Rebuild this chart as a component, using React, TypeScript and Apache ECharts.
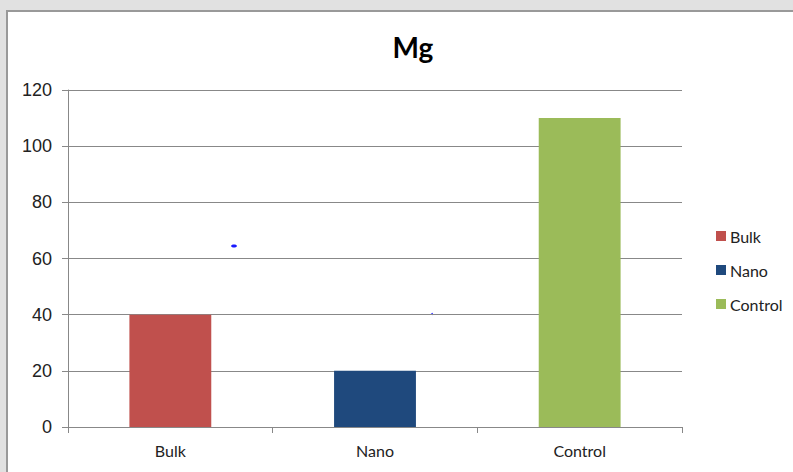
import React, { useEffect, useRef } from "react";
import * as echarts from "echarts";

const categories = ["Bulk", "Nano", "Control"];
const seriesNames = ["Bulk", "Nano", "Control"];
const values = [40, 20, 110];
const colors = ["#C0504D", "#1F497D", "#9BBB59"];
const yTicks = { min: 0, max: 120, interval: 20 };

const labelFont = "Lato";
const numFont = "Liberation Sans";

export default function App() {
  const ref = useRef<HTMLDivElement>(null);

  useEffect(() => {
    if (!ref.current) return;
    const chart = echarts.init(ref.current, null, { renderer: "svg" });

    // one series per category so each gets its own legend entry, stacked to share a slot
    const series = seriesNames.map((name, i) => ({
      name,
      type: "bar" as const,
      stack: "all",
      barWidth: "40%",
      itemStyle: { color: colors[i] },
      data: values.map((v, j) => (j === i ? v : "-")),
    }));

    chart.setOption({
      animation: false,
      backgroundColor: "transparent",
      title: {
        text: "Mg",
        left: 408,
        textAlign: "center",
        top: 28,
        textStyle: {
          fontFamily: labelFont,
          fontSize: 28,
          fontWeight: "bold",
          color: "#000",
        },
      },
      legend: {
        orient: "vertical",
        left: 711,
        top: 223,
        itemWidth: 10,
        itemHeight: 10,
        itemGap: 18,
        icon: "rect",
        data: seriesNames,
        textStyle: { fontFamily: labelFont, fontSize: 16, color: "#222", padding: [0, 0, 0, -1] },
      },
      grid: { left: 68, right: 111, top: 90, bottom: 45 },
      xAxis: {
        type: "category",
        data: categories,
        boundaryGap: true,
        axisLine: { lineStyle: { color: "#888", width: 1 } },
        axisTick: { show: true, length: 6, lineStyle: { color: "#888" } },
        axisLabel: { fontFamily: labelFont, fontSize: 16, color: "#222", margin: 15 },
      },
      yAxis: {
        type: "value",
        min: yTicks.min,
        max: yTicks.max,
        interval: yTicks.interval,
        axisLine: { show: true, lineStyle: { color: "#888", width: 1 } },
        axisTick: { show: true, length: 6, lineStyle: { color: "#888" } },
        splitLine: { lineStyle: { color: "#888", width: 1 } },
        axisLabel: {
          fontFamily: "Liberation Sans, Arial, sans-serif",
          fontSize: 18,
          color: "#222",
          margin: 16,
        },
      },
      graphic: [
        { type: "ellipse", shape: { cx: 234, cy: 246, rx: 3, ry: 1.5 }, style: { fill: "#1a1aff" }, silent: true },
        { type: "circle", shape: { cx: 432, cy: 314, r: 1 }, style: { fill: "#4040ff" }, silent: true },
      ],
      series,
    });

    return () => chart.dispose();
  }, []);

  return (
    <div
      style={{
        position: "fixed",
        left: 0,
        top: 0,
        width: 793,
        height: 472,
        background: "#e1e1e1",
        overflow: "hidden",
      }}
    >
      <div
        style={{
          position: "absolute",
          left: 6,
          top: 10,
          width: 800,
          height: 480,
          background: "#fff",
          borderTop: "2px solid #999",
          borderLeft: "2px solid #999",
          boxSizing: "border-box",
        }}
      />
      <div ref={ref} style={{ position: "absolute", left: 0, top: 0, width: 793, height: 472 }} />
    </div>
  );
}
